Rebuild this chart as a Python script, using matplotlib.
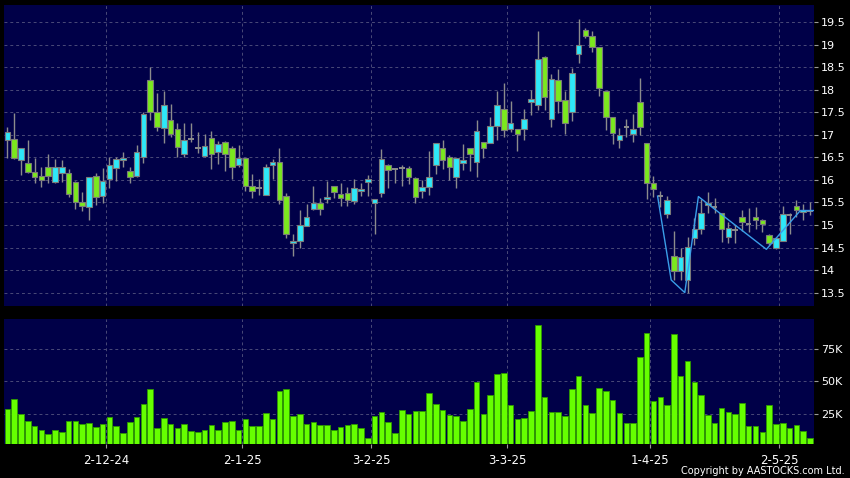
import matplotlib
matplotlib.use('Agg')
import matplotlib.pyplot as plt
from matplotlib.patches import Rectangle
from matplotlib.ticker import FuncFormatter

# ---------------- data ----------------
opens = [16.88, 16.90, 16.44, 16.37, 16.18, 16.08, 16.28, 15.95, 16.15, 16.15,
         15.95, 15.50, 15.39, 16.09, 15.64, 16.02, 16.26, 16.44, 16.20, 16.09,
         16.51, 18.21, 17.51, 17.14, 17.33, 17.12, 16.57, 16.90, 16.70, 16.54,
         16.92, 16.61, 16.83, 16.70, 16.34, 16.48, 15.87, 15.81, 15.66, 16.34,
         16.39, 15.64, 14.59, 14.65, 14.98, 15.35, 15.48, 15.57, 15.87, 15.68,
         15.70, 15.54, 15.75, 15.95, 15.48, 15.70, 16.34, 16.23, 16.27, 16.27,
         16.05, 15.76, 15.85, 16.33, 16.70, 16.50, 16.07, 16.37, 16.70, 16.40,
         16.85, 16.82, 17.20, 17.56, 17.12, 17.12, 17.12, 17.72, 17.65, 18.72,
         17.36, 18.21, 17.77, 17.50, 18.80, 19.32, 19.19, 18.94, 17.97, 17.39,
         16.88, 17.17, 17.01, 17.72, 16.81, 15.94, 15.64, 15.24, 14.32, 13.98,
         13.79, 14.70, 14.90, 15.44, 15.39, 15.26, 14.73, 14.89, 15.18, 15.02,
         15.17, 15.11, 14.78, 14.50, 14.65, 15.22, 15.43, 15.29, 15.32]
highs = [17.18, 17.49, 16.71, 16.88, 16.49, 16.28, 16.57, 16.46, 16.43, 16.23,
         15.98, 15.74, 16.06, 16.16, 16.27, 16.50, 16.50, 16.61, 16.29, 16.77,
         17.51, 18.51, 17.93, 17.97, 17.68, 17.25, 17.25, 17.25, 17.05, 17.02,
         17.09, 16.87, 16.86, 16.75, 16.77, 16.48, 16.13, 16.01, 16.35, 16.46,
         16.70, 15.70, 14.80, 15.33, 15.46, 15.86, 15.59, 15.97, 15.87, 15.94,
         15.85, 16.01, 15.92, 16.11, 15.57, 16.68, 16.36, 16.27, 16.34, 16.30,
         16.07, 15.99, 16.64, 16.81, 16.88, 16.55, 16.48, 16.80, 16.70, 17.33,
         16.85, 17.40, 17.98, 18.14, 17.75, 17.12, 17.57, 17.99, 19.30, 18.75,
         18.35, 18.46, 17.96, 18.47, 19.56, 19.37, 19.29, 18.94, 17.97, 17.39,
         17.14, 17.34, 17.47, 18.25, 16.81, 16.09, 15.76, 15.64, 14.87, 14.50,
         14.73, 15.15, 15.57, 15.72, 15.60, 15.27, 15.07, 15.00, 15.33, 15.37,
         15.39, 15.13, 14.81, 14.73, 15.41, 15.26, 15.55, 15.46, 15.50]
lows = [16.48, 16.46, 16.11, 16.15, 15.92, 15.85, 15.92, 15.94, 15.96, 15.61,
        15.35, 15.32, 15.10, 15.44, 15.48, 15.83, 15.97, 16.29, 15.94, 16.07,
        16.38, 17.33, 17.09, 16.82, 16.94, 16.50, 16.51, 16.85, 16.59, 16.51,
        16.24, 16.35, 16.20, 16.01, 16.29, 15.75, 15.59, 15.66, 15.66, 16.03,
        15.46, 14.72, 14.32, 14.50, 14.98, 15.33, 15.22, 15.49, 15.60, 15.41,
        15.41, 15.47, 15.65, 15.65, 14.81, 15.63, 15.83, 15.94, 15.86, 15.90,
        15.48, 15.60, 15.66, 16.14, 16.23, 16.00, 15.81, 16.22, 16.20, 16.07,
        16.48, 16.82, 16.88, 16.96, 17.07, 16.65, 16.88, 17.44, 17.55, 17.55,
        17.18, 17.49, 17.02, 17.31, 18.60, 19.14, 18.84, 17.86, 17.11, 16.79,
        16.71, 16.96, 16.85, 16.99, 15.57, 15.63, 15.39, 15.15, 13.78, 13.78,
        13.50, 14.56, 14.81, 15.26, 15.26, 14.63, 14.59, 14.59, 14.87, 14.85,
        14.90, 14.85, 14.56, 14.46, 14.65, 14.81, 15.18, 15.10, 15.22]
closes = [17.05, 16.48, 16.70, 16.18, 16.06, 15.99, 16.09, 16.28, 16.28, 15.69,
          15.50, 15.42, 16.06, 15.61, 15.97, 16.32, 16.46, 16.49, 16.07, 16.61,
          17.46, 17.51, 17.18, 17.66, 17.01, 16.72, 16.88, 16.90, 16.70, 16.75,
          16.57, 16.79, 16.57, 16.29, 16.48, 15.87, 15.75, 15.81, 16.28, 16.39,
          15.55, 14.81, 14.65, 15.01, 15.17, 15.48, 15.35, 15.61, 15.74, 15.59,
          15.55, 15.83, 15.79, 16.03, 15.57, 16.46, 16.22, 16.23, 16.27, 16.07,
          15.63, 15.85, 16.06, 16.81, 16.44, 16.28, 16.48, 16.43, 16.57, 17.08,
          16.70, 17.20, 17.67, 17.10, 17.25, 17.01, 17.34, 17.79, 18.67, 17.83,
          18.23, 17.75, 17.25, 18.36, 19.00, 19.19, 18.94, 18.03, 17.39, 17.03,
          16.99, 17.17, 17.12, 17.17, 15.92, 15.79, 15.64, 15.55, 13.98, 14.28,
          14.52, 14.90, 15.26, 15.48, 15.39, 14.90, 14.94, 14.89, 15.07, 15.02,
          15.10, 15.02, 14.61, 14.70, 15.24, 15.22, 15.33, 15.33, 15.32]
volumes_k = [28.9, 36.2, 25.0, 19.0, 15.1, 12.0, 8.8, 12.5, 10.7, 19.5,
             19.3, 17.2, 17.4, 14.6, 16.6, 22.1, 15.3, 9.9, 18.7, 22.1,
             32.8, 44.0, 14.0, 21.3, 17.2, 14.0, 16.6, 11.4, 10.4, 12.0,
             16.1, 12.0, 18.2, 19.5, 12.2, 20.8, 15.6, 15.1, 25.5, 20.8,
             42.2, 43.7, 22.9, 24.5, 16.9, 18.7, 15.9, 16.1, 12.0, 14.8,
             16.1, 16.9, 14.0, 6.2, 22.9, 26.3, 18.5, 9.9, 27.6, 24.7,
             27.1, 26.8, 41.1, 32.3, 27.6, 23.9, 23.1, 19.0, 28.6, 49.7,
             25.0, 39.3, 55.4, 56.2, 31.5, 20.5, 21.9, 26.8, 94.0, 37.5,
             26.6, 26.0, 22.9, 43.7, 54.1, 32.0, 25.5, 45.0, 42.4, 35.9,
             25.7, 18.0, 18.0, 69.2, 87.5, 34.6, 37.5, 31.7, 87.0, 54.1,
             66.1, 49.7, 39.5, 24.1, 18.0, 29.4, 26.0, 25.0, 33.6, 15.6,
             15.6, 10.7, 32.0, 16.6, 17.9, 13.5, 16.1, 11.4, 6.0]
tick_labels = ['2-12-24', '2-1-25', '3-2-25', '3-3-25', '1-4-25', '2-5-25']
tick_index = [15, 35, 54, 74, 95, 114]
zig_index = [96, 98, 100, 102, 112, 117, 118]
zig_value = [15.64, 13.78, 13.50, 15.63, 14.46, 15.32, 15.32]
price_ticks = [13.5, 14, 14.5, 15, 15.5, 16, 16.5, 17, 17.5, 18, 18.5, 19, 19.5]
vol_ticks_k = [25, 50, 75]

# ---------------- style ----------------
BG = '#000000'
PANEL = '#000048'
GRID = '#4a4a78'
UP = '#2ee8f8'
DOWN = '#7be81e'
WICK = '#8c8c8c'
EDGE = '#7a7a7a'
VOL = '#66ff00'
VOL_EDGE = '#2e9a00'

n = len(opens)
xs = list(range(n))

fig = plt.figure(figsize=(8.5, 4.78), dpi=100, facecolor=BG)
ax = fig.add_axes([4/850, 1-306/478, 810/850, 301/478], facecolor=PANEL)
axv = fig.add_axes([4/850, 1-444/478, 810/850, 125/478], facecolor=PANEL)

xlim = (-0.5, 118.6)
for a in (ax, axv):
    a.set_xlim(*xlim)
    for s in a.spines.values():
        s.set_visible(False)
    a.yaxis.tick_right()
    a.tick_params(axis='y', colors='#9a9a9a', labelcolor='white', labelsize=8,
                  length=3, width=0.8, pad=2, direction='out')
    a.set_axisbelow(True)

grid_x = [t - 0.5 for t in tick_index]

# price panel
ax.set_ylim(13.203, 19.877)
ax.set_yticks(price_ticks)
ax.yaxis.set_major_formatter(FuncFormatter(lambda v, p: ('%g' % v)))
ax.set_xticks([])
for gy in price_ticks:
    ax.axhline(gy, color=GRID, lw=0.7, ls=(0, (3, 3)), zorder=0)
for gx in grid_x:
    ax.axvline(gx, color=GRID, lw=0.7, ls=(0, (3, 3)), zorder=0)

bw = 0.82
for i in xs:
    o, h, l, c = opens[i], highs[i], lows[i], closes[i]
    ax.vlines(i, l, h, color=WICK, lw=1.0, zorder=2)
    if abs(c - o) < 0.005:
        ax.hlines(o, i - bw/2, i + bw/2, color=WICK, lw=1.4, zorder=3)
    else:
        col = UP if c > o else DOWN
        ax.add_patch(Rectangle((i - bw/2, min(o, c)), bw, abs(c - o),
                               facecolor=col, edgecolor=EDGE, lw=0.8, zorder=3))

ax.plot([z - 0.4 for z in zig_index[:-1]] + [xlim[1]],
        zig_value[:-1] + [zig_value[-1]],
        color='#3a9ee8', lw=1.0, zorder=4)

# volume panel
axv.set_ylim(1400, 98400)
axv.set_yticks([v * 1000 for v in vol_ticks_k])
axv.yaxis.set_major_formatter(FuncFormatter(lambda v, p: '%dK' % round(v / 1000)))
for gy in vol_ticks_k:
    axv.axhline(gy * 1000, color=GRID, lw=0.7, ls=(0, (3, 3)), zorder=0)
for gx in grid_x:
    axv.axvline(gx, color=GRID, lw=0.7, ls=(0, (3, 3)), zorder=0)
axv.bar(xs, [v * 1000 for v in volumes_k], width=0.82, bottom=0,
        color=VOL, edgecolor=VOL_EDGE, lw=0.6, zorder=2)
axv.set_xticks(grid_x)
axv.set_xticklabels(tick_labels)
axv.tick_params(axis='x', colors='#9a9a9a', labelcolor='white', labelsize=8.5,
                length=3, width=0.8, pad=4, direction='out')

fig.text(845/850, 1 - 471/478, 'Copyright by AASTOCKS.com Ltd.', color='white',
         fontsize=7, ha='right', va='center')

fig.savefig('out.png', dpi=100, facecolor=BG)
